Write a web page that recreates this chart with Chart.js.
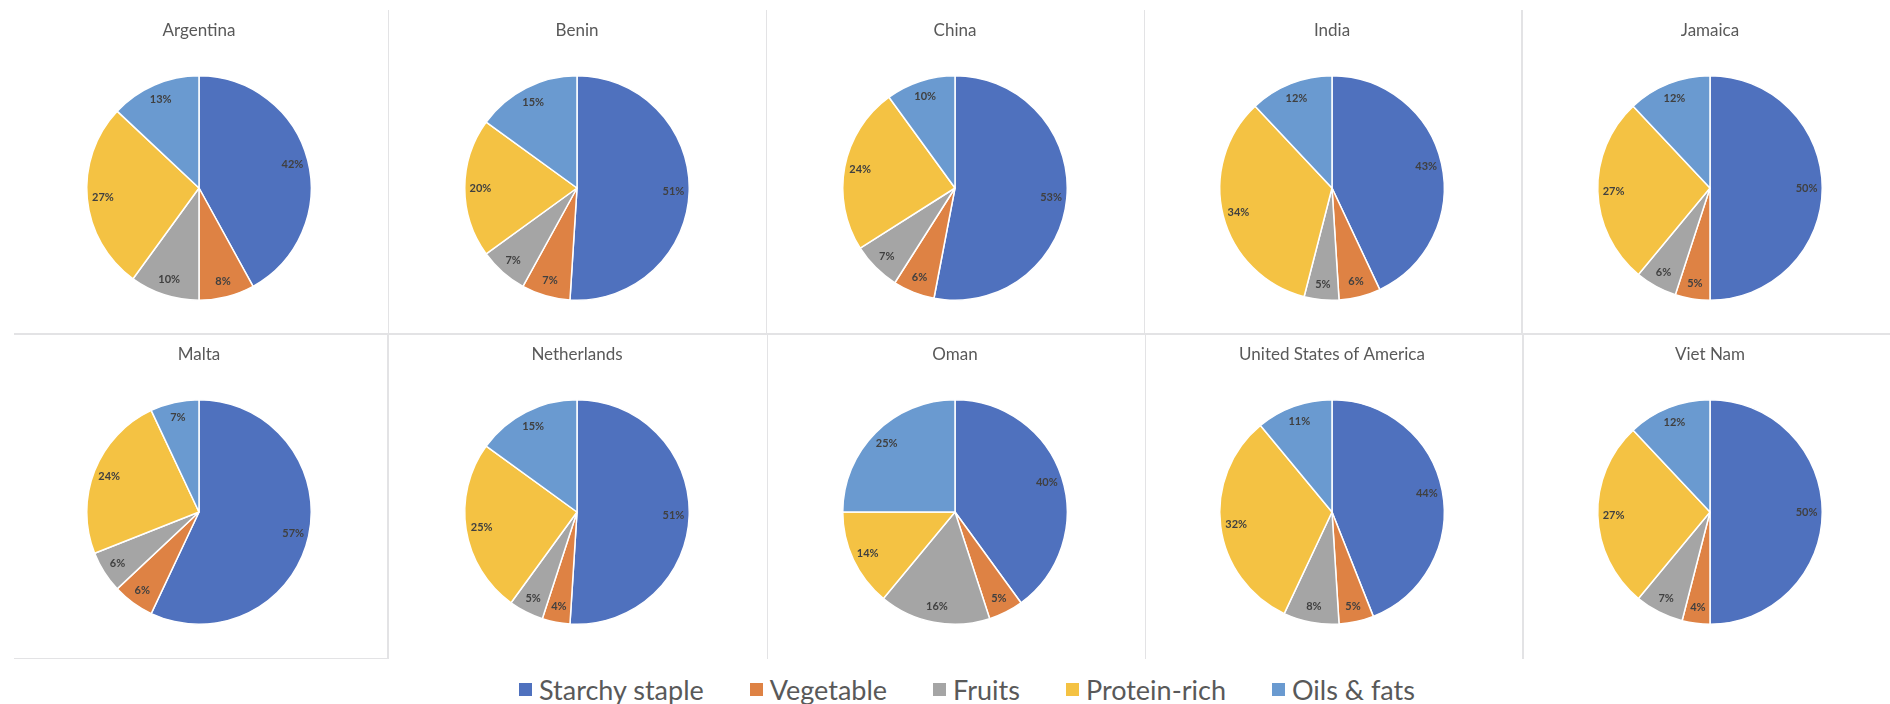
<!DOCTYPE html>
<html>
<head>
<meta charset="utf-8">
<title>Food group shares by country</title>
<script src="https://cdn.jsdelivr.net/npm/chart.js@4.4.1/dist/chart.umd.min.js"></script>
<style>
  body{margin:0;background:#fff;width:1890px;height:704px;position:relative;overflow:hidden;font-family:Lato,'Noto Sans',sans-serif}
  .rule{position:absolute;background:#e3e3e5}
  .panel{position:absolute}
  #legend{position:absolute;left:519px;top:671px;height:36px;display:flex;align-items:center;gap:46px;color:#595959;font-size:27px;white-space:nowrap}
  #legend .item{display:flex;align-items:center}
  #legend .sw{width:13px;height:13px;margin-right:7px;display:inline-block}
</style>
</head>
<body>
<div id="legend"></div>
<script>
// shares of the diet (%) per country, one array per food group
const categories = ['Starchy staple', 'Vegetable', 'Fruits', 'Protein-rich', 'Oils & fats'];
const countries = ['Argentina', 'Benin', 'China', 'India', 'Jamaica',
                   'Malta', 'Netherlands', 'Oman', 'United States of America', 'Viet Nam'];
const starchy   = [42, 51, 53, 43, 50, 57, 51, 40, 44, 50];
const vegetable = [ 8,  7,  6,  6,  5,  6,  4,  5,  5,  4];
const fruits    = [10,  7,  7,  5,  6,  6,  5, 16,  8,  7];
const protein   = [27, 20, 24, 34, 27, 24, 25, 14, 32, 27];
const oils      = [13, 15, 10, 12, 12,  7, 15, 25, 11, 12];
const colors = ['#4f71be', '#de8244', '#a5a5a5', '#f4c243', '#6a9ad0'];

// grid of panels: pie centre x per column, top y per row
const colCenters = [199, 577, 955, 1332, 1710];
const rowTops = [0, 324];
const PANEL_W = 360, PANEL_H = 320;

// thin separators between the panels
const rules = [
  [14, 333, 1876, 2], [14, 658, 374, 1],
  [388, 10, 1, 323], [766, 10, 1, 323], [1144, 10, 1, 323], [1521, 10, 2, 323],
  [387, 334, 2, 325], [767, 334, 1, 325], [1145, 334, 1, 325], [1522, 334, 2, 325]
];
rules.forEach(([x, y, w, h]) => {
  const d = document.createElement('div');
  d.className = 'rule';
  d.style.cssText = `left:${x}px;top:${y}px;width:${w}px;height:${h}px`;
  document.body.appendChild(d);
});

// percentage text inside each slice, near the outer edge
const sliceLabels = {
  id: 'sliceLabels',
  afterDatasetsDraw(chart) {
    const ctx = chart.ctx;
    const values = chart.data.datasets[0].data;
    const total = values.reduce((s, v) => s + v, 0);
    chart.getDatasetMeta(0).data.forEach((arc, i) => {
      const p = arc.getProps(['x', 'y', 'startAngle', 'endAngle', 'outerRadius'], true);
      const mid = (p.startAngle + p.endAngle) / 2;
      const r = p.outerRadius * 0.86;
      ctx.save();
      ctx.font = 'bold 11px Lato, sans-serif';
      ctx.fillStyle = '#404040';
      ctx.textAlign = 'center';
      ctx.textBaseline = 'middle';
      ctx.fillText(Math.round(values[i] / total * 100) + '%', p.x + Math.cos(mid) * r, p.y + Math.sin(mid) * r);
      ctx.restore();
    });
  }
};

countries.forEach((name, k) => {
  const canvas = document.createElement('canvas');
  canvas.width = PANEL_W;
  canvas.height = PANEL_H;
  canvas.className = 'panel';
  canvas.style.left = (colCenters[k % 5] - PANEL_W / 2) + 'px';
  canvas.style.top = rowTops[Math.floor(k / 5)] + 'px';
  document.body.appendChild(canvas);

  new Chart(canvas, {
    type: 'pie',
    data: {
      labels: categories,
      datasets: [{
        data: [starchy[k], vegetable[k], fruits[k], protein[k], oils[k]],
        backgroundColor: colors,
        borderColor: '#ffffff',
        borderWidth: 1.5
      }]
    },
    options: {
      responsive: false,
      animation: false,
      layout: {padding: {bottom: 19}},
      plugins: {
        legend: {display: false},
        tooltip: {enabled: false},
        title: {
          display: true,
          text: name,
          color: '#595959',
          font: {family: 'Lato', size: 17, weight: 'normal'},
          padding: {top: 20, bottom: 34.6}
        }
      }
    },
    plugins: [sliceLabels]
  });
});

// legend row under the grid
const legend = document.getElementById('legend');
categories.forEach((c, i) => {
  const item = document.createElement('span');
  item.className = 'item';
  item.innerHTML = `<span class="sw" style="background:${colors[i]}"></span>${c}`;
  legend.appendChild(item);
});
</script>
</body>
</html>
